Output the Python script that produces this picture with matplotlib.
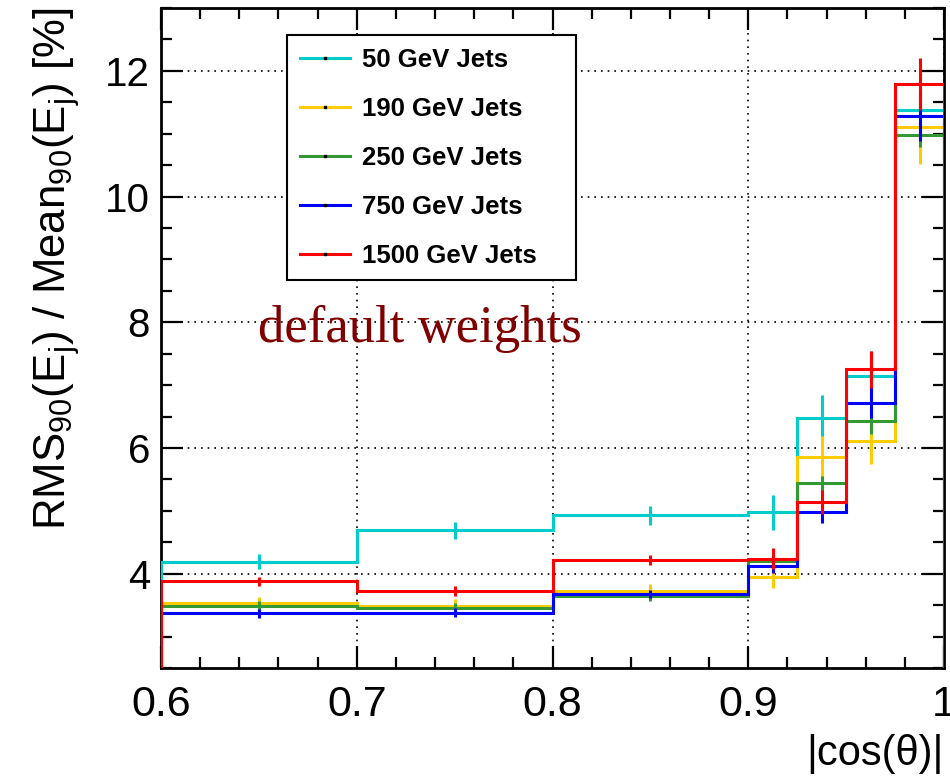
import numpy as np
import matplotlib
matplotlib.use('Agg')
import matplotlib.pyplot as plt
from matplotlib.lines import Line2D
from matplotlib.ticker import MultipleLocator, FixedLocator, FixedFormatter

plt.rcParams['font.family'] = ['Liberation Sans', 'DejaVu Sans']
plt.rcParams['mathtext.default'] = 'regular'

# bin edges in |cos(theta)|
edges = [0.6, 0.7, 0.8, 0.9, 0.925, 0.95, 0.975, 1.0]

labels = ['50 GeV Jets', '190 GeV Jets', '250 GeV Jets', '750 GeV Jets', '1500 GeV Jets']
colors = ['#00CCCC', '#FFCC00', '#339933', '#0000FF', '#FF0000']

# RMS90/Mean90 [%] per bin
res_50 = [4.19, 4.69, 4.93, 4.98, 6.48, 7.14, 11.38]
res_190 = [3.53, 3.49, 3.73, 3.95, 5.86, 6.11, 11.10]
res_250 = [3.48, 3.46, 3.65, 4.21, 5.44, 6.43, 10.98]
res_750 = [3.37, 3.38, 3.68, 4.13, 4.98, 6.72, 11.29]
res_1500 = [3.88, 3.72, 4.22, 4.24, 5.14, 7.25, 11.79]

# errors
err_50 = [0.12, 0.14, 0.15, 0.28, 0.37, 0.41, 0.35]
err_190 = [0.10, 0.10, 0.11, 0.17, 0.33, 0.37, 0.58]
err_250 = [0.08, 0.08, 0.08, 0.13, 0.12, 0.20, 0.19]
err_750 = [0.07, 0.07, 0.06, 0.12, 0.18, 0.25, 0.40]
err_1500 = [0.075, 0.08, 0.075, 0.17, 0.19, 0.29, 0.42]

series = [res_50, res_190, res_250, res_750, res_1500]
errors = [err_50, err_190, err_250, err_750, err_1500]

edges = np.array(edges)
centers = 0.5 * (edges[:-1] + edges[1:])

fig = plt.figure(figsize=(9.5, 7.79), dpi=100)
ax = fig.add_axes([0.1695, 0.1425, 0.8242, 0.8472])

for vals, errs, c in zip(series, errors, colors):
    ax.stairs(vals, edges, baseline=0, color=c, lw=2.2, zorder=3)
    ax.errorbar(centers, vals, yerr=errs, fmt='none', ecolor=c, elinewidth=2.2, zorder=3)

ax.set_xlim(0.6, 1.0)
ax.set_ylim(2.5, 13.0)

ax.xaxis.set_major_locator(FixedLocator([0.6, 0.7, 0.8, 0.9, 1.0]))
ax.xaxis.set_major_formatter(FixedFormatter(['0.6', '0.7', '0.8', '0.9', '1']))
ax.xaxis.set_minor_locator(MultipleLocator(0.02))
ax.yaxis.set_major_locator(MultipleLocator(2))
ax.yaxis.set_minor_locator(MultipleLocator(0.5))

ax.tick_params(which='both', direction='in', top=True, right=True, width=1.6)
ax.tick_params(which='major', length=16)
ax.tick_params(which='minor', length=8)
ax.tick_params(axis='x', labelsize=31, pad=12)
ax.tick_params(axis='y', labelsize=29, pad=8)
for s in ax.spines.values():
    s.set_linewidth(2)

ax.grid(True, which='major', color='black', linestyle=(0, (1, 3)), lw=1.2)

ax.set_ylabel(r'RMS$_{90}$(E$_{j}$) / Mean$_{90}$(E$_{j}$) [%]', fontsize=31.5, loc='top')
ax.yaxis.set_label_coords(-0.101, 1.0)
ax.set_xlabel('|cos(θ)|', fontsize=30, loc='right')
ax.xaxis.set_label_coords(1.0, -0.1)

ax.text(0.6495, 7.68, 'default weights', family='Liberation Serif', fontsize=38,
        color='#800000', ha='left', va='baseline')

handles = [Line2D([0], [0], color=c, lw=2.2, marker='s', ms=1.5, mfc='black', mec='black')
           for c in colors]
leg = ax.legend(handles, labels, loc='upper left', bbox_to_anchor=(0.161, 0.591, 0.369, 0.368),
                mode='expand', bbox_transform=ax.transAxes, fancybox=False, framealpha=1,
                edgecolor='black', borderaxespad=0, prop={'weight': 'bold', 'size': 18.5},
                handlelength=1.95, handletextpad=0.45, labelspacing=0.97, borderpad=0.5)
leg.get_frame().set_linewidth(1.5)

fig.savefig('out.png', dpi=100)
